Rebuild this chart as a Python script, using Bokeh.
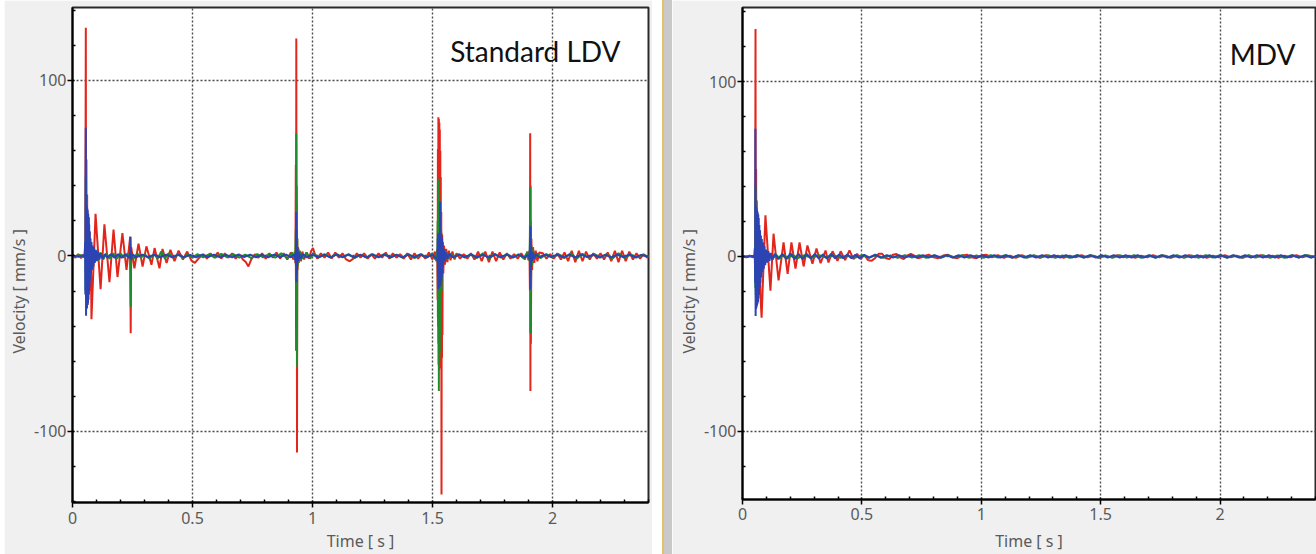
import math
from bokeh.plotting import figure
from bokeh.models import FixedTicker, Label, Div, Range1d, Title
from bokeh.layouts import row
from bokeh.embed import file_html
from bokeh.resources import INLINE

# ---------------- axis ticks ----------------
x_ticks = [0, 0.5, 1, 1.5, 2]
x_tick_labels = ["0", "0.5", "1", "1.5", "2"]
x_minor = [0.1, 0.2, 0.3, 0.4, 0.6, 0.7, 0.8, 0.9, 1.1, 1.2, 1.3, 1.4,
           1.6, 1.7, 1.8, 1.9, 2.1, 2.2, 2.3, 2.4]
y_ticks = [-100, 0, 100]
y_tick_labels = ["-100", "0", "100"]
y_minor = [-140, -120, -80, -60, -40, -20, 20, 40, 60, 80, 120, 140]

# ---------------- Standard LDV (time s, velocity mm/s) ----------------
ldv_red = [
    (0.000, 0.8), (0.012, -1.0), (0.024, 1.0), (0.036, -1.2), (0.046, 0.8), (0.051, -1.0),
    (0.0535, 6), (0.0555, 130), (0.0565, -12), (0.058, 55), (0.0595, -22), (0.061, 35),
    (0.0625, -28), (0.064, 20), (0.0655, -18), (0.067, 22), (0.069, -15), (0.071, 14),
    (0.073, -20), (0.076, 8), (0.079, -36),
    (0.096, 24), (0.117, -19), (0.133, 18), (0.154, -15), (0.171, 15), (0.1875, -12),
    (0.208, 13), (0.225, -8), (0.2405, 11), (0.2425, -44), (0.2445, 5), (0.258, -7),
    (0.275, 7), (0.292, -6), (0.308, 5.5), (0.329, -5), (0.342, 4.5), (0.3625, -7),
    (0.375, 4), (0.392, -4), (0.408, 3.5), (0.425, -3), (0.442, 3), (0.460, -2),
    (0.478, 2.5), (0.495, -2.5), (0.510, -4), (0.525, -1.5), (0.545, 1),
    (0.560, -1.5), (0.575, 1.5), (0.590, -1), (0.605, 2), (0.620, -1.5), (0.635, 1.5),
    (0.650, -1), (0.665, 1.5), (0.680, -1.5), (0.695, 1), (0.710, -2), (0.722, -3.5),
    (0.733, -6), (0.745, -2), (0.760, 1), (0.775, -1), (0.790, 1.5), (0.805, -1.5),
    (0.820, 1.5), (0.835, -1), (0.850, 2), (0.865, -1.5), (0.880, 1.5), (0.895, -2),
    (0.910, 2), (0.920, -2),
    (0.926, 2.5), (0.929, -4), (0.9305, 52), (0.9315, -54), (0.9325, 124), (0.9335, -20),
    (0.9345, 30), (0.9355, -112), (0.9365, 10), (0.938, -8), (0.940, 5), (0.943, -4),
    (0.947, 3), (0.952, -3), (0.958, 2.5), (0.965, -2), (0.975, 2), (0.985, -1.5),
    (0.995, 3), (1.002, 4.5), (1.010, 1), (1.020, -1.5),
    (1.035, 1.5), (1.050, -1), (1.065, 2), (1.080, -1.5), (1.095, 2), (1.110, -1),
    (1.125, 1.5), (1.140, -2), (1.155, -3), (1.170, -1.5), (1.185, 1.5), (1.200, -1),
    (1.215, 1.5), (1.230, -1.5), (1.245, 1), (1.260, -1.5), (1.275, 1.5), (1.290, -1),
    (1.305, 2), (1.320, -1.5), (1.335, 1.5), (1.350, -1), (1.365, 1), (1.380, -1.5),
    (1.395, 1.5), (1.410, -2), (1.425, 1.5), (1.440, -1.5), (1.455, 1), (1.470, -1.5),
    (1.485, 2), (1.500, -2), (1.510, 2.5), (1.516, -3),
    (1.5195, 4), (1.5215, -25), (1.5225, 61), (1.5235, -40), (1.5245, 79), (1.5255, -62),
    (1.5265, 78), (1.5275, -65), (1.5285, 76), (1.5295, -60), (1.5305, 72), (1.5315, -64),
    (1.5325, 60), (1.5335, -55), (1.5345, 45), (1.5355, -50), (1.5365, 25), (1.5375, -136),
    (1.5385, 13), (1.5395, -58), (1.5405, 12), (1.5415, -45), (1.5425, 8), (1.545, -10),
    (1.548, 6), (1.552, -5), (1.557, 4), (1.562, -3.5), (1.568, 3), (1.575, -2.5),
    (1.583, 2.5), (1.592, -2),
    (1.600, 1.5), (1.615, -1.5), (1.630, 1), (1.645, -1.5), (1.660, 1.5), (1.675, -2),
    (1.690, 2.5), (1.705, -3), (1.720, 2.5), (1.735, -3.5), (1.750, 2.5), (1.765, -3),
    (1.780, 2), (1.795, -2), (1.810, 1.5), (1.825, -1.5), (1.840, 1), (1.855, -1.5),
    (1.870, 1.5), (1.885, -2), (1.895, 2.5), (1.900, -2.5), (1.904, 3),
    (1.906, -20), (1.907, 70), (1.908, -77), (1.909, 40), (1.910, -50), (1.912, 10),
    (1.915, -8), (1.919, 5), (1.924, -4), (1.930, 3), (1.937, -3), (1.945, 2),
    (1.960, 1.5), (1.975, -1.5), (1.990, 1), (2.005, -1.5), (2.020, 1.5), (2.035, -2),
    (2.050, 2), (2.065, -3), (2.080, 3), (2.095, -3.5), (2.110, 3), (2.125, -3),
    (2.140, 2.5), (2.155, -2), (2.170, 1.5), (2.185, -1.5), (2.200, 1.5), (2.215, -2),
    (2.230, 2), (2.245, -3), (2.260, 3), (2.275, -3.5), (2.290, 3), (2.305, -3),
    (2.320, 2.5), (2.335, -2), (2.350, 1.5), (2.365, -1.5), (2.380, 1), (2.395, -1),
    (2.400, 0.5),
]

ldv_green = [
    (0.000, -0.5), (0.030, 0.6), (0.050, -0.6), (0.0535, 8), (0.0545, -20), (0.0555, 45),
    (0.0565, -25), (0.058, 30), (0.0595, -20), (0.061, 22), (0.063, -18), (0.065, 15),
    (0.068, -12), (0.071, 10), (0.075, -8), (0.080, 5), (0.088, -4), (0.097, 3),
    (0.106, -2.5), (0.116, 2), (0.128, -2), (0.140, 1.5), (0.155, -1.5), (0.170, 1.5),
    (0.185, -1.5), (0.200, 1.5), (0.215, -1), (0.230, 1.5), (0.2405, -2), (0.2425, -29),
    (0.2445, 1), (0.255, -1.5), (0.270, 1.5), (0.285, -1), (0.300, 1), (0.320, -1.5),
    (0.340, 1), (0.355, -1.5), (0.370, 2.5), (0.385, -1.5), (0.400, 1.5), (0.420, -1),
    (0.440, 1), (0.460, -1.2), (0.480, 0.8), (0.500, -1), (0.520, 1), (0.545, -0.8),
    (0.570, 1), (0.595, -1), (0.620, 1.2), (0.645, -0.8), (0.670, 1), (0.695, -1),
    (0.720, 0.8), (0.745, -1.2), (0.770, 1), (0.795, -0.8), (0.820, 1.2), (0.845, -1),
    (0.870, 1.5), (0.895, -1.5), (0.915, 2), (0.925, -2),
    (0.929, 3), (0.9305, 15), (0.9315, -30), (0.9325, 70), (0.9335, -20), (0.9345, 40),
    (0.9355, -63), (0.9365, 10), (0.938, -6), (0.941, 4), (0.945, -3), (0.950, 2),
    (0.960, -1.5), (0.975, 2), (0.990, -1.5), (1.005, 1.5), (1.025, -1), (1.050, 1),
    (1.075, -1), (1.100, 1.2), (1.125, -0.8), (1.150, 1), (1.175, -1.2), (1.200, 0.8),
    (1.225, -1), (1.250, 1), (1.275, -0.8), (1.300, 1.2), (1.325, -1), (1.350, 0.8),
    (1.375, -1), (1.400, 1), (1.425, -1.2), (1.450, 1), (1.475, -1), (1.500, 1.5),
    (1.512, -2), (1.518, 2.5),
    (1.5205, -3), (1.5215, 20), (1.5225, -35), (1.5235, 44), (1.5245, -50), (1.5255, 40),
    (1.5265, -77), (1.5275, 35), (1.5285, -60), (1.5295, 30), (1.5305, -55), (1.5315, 25),
    (1.5325, -45), (1.5335, 20), (1.5345, -35), (1.536, 15), (1.538, -20), (1.540, 8),
    (1.543, -6), (1.547, 4), (1.552, -3), (1.558, 2), (1.566, -1.5), (1.575, 1.5),
    (1.590, -1), (1.610, 1), (1.635, -1), (1.660, 1), (1.685, -1.2), (1.710, 1.5),
    (1.735, -1.5), (1.760, 1.2), (1.785, -1), (1.810, 1), (1.835, -1), (1.860, 1),
    (1.880, -1.5), (1.895, 2), (1.902, -2.5),
    (1.905, 3), (1.906, 15), (1.907, 39), (1.908, -44), (1.909, 20), (1.910, -25),
    (1.912, 6), (1.915, -5), (1.919, 3), (1.925, -2), (1.935, 1.5), (1.950, -1.2),
    (1.975, 1), (2.000, -1), (2.025, 1), (2.050, -1.2), (2.075, 1.5), (2.100, -1.5),
    (2.125, 1.2), (2.150, -1), (2.175, 1), (2.200, -1), (2.225, 1), (2.250, -1.5),
    (2.275, 1.5), (2.300, -1.2), (2.325, 1), (2.350, -1), (2.375, 0.8), (2.400, -0.5),
]

ldv_blue = [
    (0.000, 0.3), (0.025, -0.5), (0.045, 0.4), (0.051, -1), (0.0525, 8), (0.0535, -22),
    (0.0545, 40), (0.0555, 73), (0.0565, -34), (0.0575, 29), (0.0585, -30), (0.0595, 28),
    (0.0605, -30), (0.0615, 27), (0.0625, -28), (0.0635, 26), (0.0645, -27), (0.0655, 24),
    (0.0665, -25), (0.0675, 22), (0.0685, -22), (0.0695, 18), (0.0705, -18), (0.072, 14),
    (0.0735, -14), (0.075, 10), (0.077, -10), (0.079, 8), (0.081, -8), (0.084, 6),
    (0.087, -6), (0.090, 5), (0.093, -4), (0.097, 3.5), (0.101, -3), (0.106, 2.5),
    (0.112, -2), (0.118, 1.5), (0.125, -1.5), (0.135, 1), (0.145, -1), (0.160, 1),
    (0.175, -1), (0.190, 1), (0.205, -1), (0.220, 1), (0.235, -1), (0.2405, 1),
    (0.2415, 11), (0.2435, -2), (0.250, 1), (0.265, -0.8), (0.290, 0.8), (0.315, -0.8),
    (0.340, 0.8), (0.365, -0.8), (0.390, 0.8), (0.415, -0.8), (0.440, 0.8), (0.465, -0.8),
    (0.490, 0.6), (0.515, -0.8), (0.540, 0.8), (0.565, -0.6), (0.590, 0.8), (0.615, -0.8),
    (0.640, 0.6), (0.665, -0.8), (0.690, 0.8), (0.715, -0.6), (0.740, 0.8), (0.765, -0.8),
    (0.790, 0.6), (0.815, -0.8), (0.840, 0.8), (0.865, -0.6), (0.890, 0.8), (0.910, -0.8),
    (0.925, 1),
    (0.929, -2), (0.931, -5), (0.932, 25), (0.933, -15), (0.934, 15), (0.935, -10),
    (0.937, 5), (0.940, -3), (0.944, 2), (0.950, -1.5), (0.960, 1), (0.975, -0.8),
    (1.000, 0.8), (1.025, -0.8), (1.050, 0.6), (1.075, -0.8), (1.100, 0.8), (1.125, -0.6),
    (1.150, 0.8), (1.175, -0.8), (1.200, 0.6), (1.225, -0.8), (1.250, 0.8), (1.275, -0.6),
    (1.300, 0.8), (1.325, -0.8), (1.350, 0.6), (1.375, -0.8), (1.400, 0.8), (1.425, -0.6),
    (1.450, 0.8), (1.475, -0.8), (1.500, 0.8), (1.512, -1), (1.519, -1.5),
    (1.521, -3), (1.522, 10), (1.523, -12), (1.524, 13), (1.525, -19), (1.526, 12),
    (1.527, -15), (1.528, 13), (1.529, -18), (1.530, 12), (1.531, -16), (1.532, 31),
    (1.533, -17), (1.534, 13), (1.535, -15), (1.536, 12), (1.537, -14), (1.538, 11),
    (1.539, -12), (1.540, 10), (1.541, -10), (1.542, 8), (1.544, -6), (1.547, 4),
    (1.551, -3), (1.556, 2), (1.562, -1.5), (1.570, 1), (1.585, -0.8), (1.610, 0.8),
    (1.635, -0.6), (1.660, 0.8), (1.685, -0.8), (1.710, 0.6), (1.735, -0.8), (1.760, 0.8),
    (1.785, -0.6), (1.810, 0.8), (1.835, -0.8), (1.860, 0.6), (1.885, -0.8), (1.900, 0.8),
    (1.903, -1), (1.905, -2), (1.9065, 10), (1.9075, -19), (1.9085, 17), (1.9095, -10),
    (1.911, 5), (1.914, -3), (1.918, 2), (1.923, -1.5), (1.930, 1), (1.945, -0.8),
    (1.970, 0.8), (1.995, -0.6), (2.020, 0.8), (2.045, -0.8), (2.070, 0.6), (2.095, -0.8),
    (2.120, 0.8), (2.145, -0.6), (2.170, 0.8), (2.195, -0.8), (2.220, 0.6), (2.245, -0.8),
    (2.270, 0.8), (2.295, -0.6), (2.320, 0.8), (2.345, -0.8), (2.370, 0.6), (2.400, -0.4),
]

# ---------------- MDV (time s, velocity mm/s) ----------------
mdv_red = [
    (0.000, 0.3), (0.015, -0.5), (0.030, 0.5), (0.045, -0.5), (0.051, 1),
    (0.053, -8), (0.0545, 130), (0.0555, -15), (0.057, 50), (0.0585, -20), (0.060, 32),
    (0.0615, -25), (0.063, 20), (0.065, -20), (0.067, 18), (0.069, -18), (0.072, 12),
    (0.075, -22), (0.080, -35),
    (0.096, 23.5), (0.117, -19.5), (0.130, 13), (0.151, -13.7), (0.172, 8), (0.189, -10),
    (0.205, 8), (0.222, -7), (0.239, 8), (0.256, -5.7), (0.272, 6.3), (0.293, -4.2),
    (0.310, 4.6), (0.327, -3.8), (0.348, 3.4), (0.360, -3.4), (0.377, 3), (0.398, -2.5),
    (0.411, 3), (0.430, -2), (0.448, 3.4), (0.465, -1.5), (0.480, 1.5), (0.495, -1.5),
    (0.510, 1), (0.525, -2), (0.540, -2.5), (0.555, -1), (0.570, 1.5), (0.585, 1.5),
    (0.600, -1), (0.615, -1.5), (0.630, 1), (0.645, 1.5), (0.660, -0.5), (0.675, -1.5),
    (0.690, 0.5), (0.705, 1.5), (0.720, 0.5), (0.735, -1), (0.750, -0.5), (0.765, 0.5),
    (0.780, 1), (0.800, -0.5), (0.820, -1), (0.840, 0.5), (0.860, 1), (0.880, -0.5),
    (0.900, -1), (0.920, 0.5), (0.940, 1), (0.960, -0.5), (0.980, -1), (1.000, 0.5),
    (1.020, 1), (1.045, -0.5), (1.070, 0.8), (1.095, -0.8), (1.120, 0.5), (1.145, -0.8),
    (1.170, 0.8), (1.195, -0.5), (1.220, 0.5), (1.245, -0.8), (1.270, 0.8), (1.295, -0.5),
    (1.320, 0.5), (1.345, -0.8), (1.370, 0.5), (1.395, -0.5), (1.420, 0.8), (1.445, -0.5),
    (1.470, 0.5), (1.495, -0.8), (1.520, 0.5), (1.545, -0.5), (1.570, 0.8), (1.595, -0.5),
    (1.620, 0.5), (1.645, -0.8), (1.670, 0.5), (1.695, -0.5), (1.720, 0.8), (1.745, -0.5),
    (1.770, 0.5), (1.795, -0.8), (1.820, 0.5), (1.845, -0.5), (1.870, 0.8), (1.895, -0.5),
    (1.920, 0.5), (1.945, -0.8), (1.970, 0.5), (1.995, -0.5), (2.020, 0.8), (2.045, -0.5),
    (2.070, 0.5), (2.095, -0.8), (2.120, 0.5), (2.145, -0.5), (2.170, 0.8), (2.195, -0.5),
    (2.220, 0.5), (2.245, -0.8), (2.270, 0.5), (2.295, -0.5), (2.320, 0.8), (2.345, -0.5),
    (2.370, 0.5), (2.400, -0.3),
]

mdv_green = [
    (0.000, -0.3), (0.030, 0.4), (0.050, -0.4), (0.0525, 6), (0.0535, -18), (0.0545, 40),
    (0.0555, -22), (0.057, 25), (0.0585, -18), (0.060, 18), (0.062, -15), (0.064, 12),
    (0.067, -10), (0.070, 8), (0.074, -6), (0.079, 4), (0.086, -3), (0.094, 2.5),
    (0.103, -2), (0.113, 1.5), (0.125, -1.5), (0.140, 1.2), (0.155, -1.2), (0.170, 1),
    (0.190, -1), (0.210, 1), (0.230, -1), (0.260, 0.8), (0.290, -0.8), (0.320, 0.8),
    (0.350, -0.6), (0.380, 0.8), (0.410, -0.8), (0.440, 0.6), (0.470, -0.8), (0.500, 0.8),
    (0.530, -0.6), (0.560, 0.8), (0.590, -0.8), (0.620, 0.6), (0.650, -0.8), (0.680, 0.8),
    (0.710, -0.6), (0.740, 0.8), (0.770, -0.8), (0.800, 0.6), (0.830, -0.8), (0.860, 0.8),
    (0.890, -0.6), (0.920, 0.8), (0.950, -0.8), (0.980, 0.6), (1.010, -0.8), (1.040, 0.8),
    (1.070, -0.6), (1.100, 0.8), (1.130, -0.8), (1.160, 0.6), (1.190, -0.8), (1.220, 0.8),
    (1.250, -0.6), (1.280, 0.8), (1.310, -0.8), (1.340, 0.6), (1.370, -0.8), (1.400, 0.8),
    (1.430, -0.6), (1.460, 0.8), (1.490, -0.8), (1.520, 0.6), (1.550, -0.8), (1.580, 0.8),
    (1.610, -0.6), (1.640, 0.8), (1.670, -0.8), (1.700, 0.6), (1.730, -0.8), (1.760, 0.8),
    (1.790, -0.6), (1.820, 0.8), (1.850, -0.8), (1.880, 0.6), (1.910, -0.8), (1.940, 0.8),
    (1.970, -0.6), (2.000, 0.8), (2.030, -0.8), (2.060, 0.6), (2.090, -0.8), (2.120, 0.8),
    (2.150, -0.6), (2.180, 0.8), (2.210, -0.8), (2.240, 0.6), (2.270, -0.8), (2.300, 0.8),
    (2.330, -0.6), (2.360, 0.8), (2.400, -0.4),
]

mdv_blue = [
    (0.000, 0.3), (0.020, -0.3), (0.040, 0.3), (0.050, -0.5), (0.052, 5), (0.053, -15),
    (0.054, 73), (0.055, -34), (0.056, 29), (0.057, -30), (0.058, 28), (0.059, -29),
    (0.060, 27), (0.061, -28), (0.062, 26), (0.063, -27), (0.064, 25), (0.065, -26),
    (0.066, 24), (0.067, -24), (0.068, 22), (0.069, -22), (0.0705, 18), (0.072, -18),
    (0.0735, 15), (0.075, -15), (0.077, 12), (0.079, -12), (0.081, 10), (0.083, -9),
    (0.086, 8), (0.089, -7), (0.092, 6), (0.095, -5), (0.099, 4), (0.103, -3.5),
    (0.108, 3), (0.113, -2.5), (0.118, 2), (0.125, -2), (0.135, 1.5), (0.150, -1.5),
    (0.167, 1.5), (0.184, -1.5), (0.201, 1.8), (0.218, -1.5), (0.235, 1.5), (0.252, -1.5),
    (0.269, 1.5), (0.286, -1.2), (0.303, 1.5), (0.320, -1.2), (0.337, 1.2), (0.354, -1.2),
    (0.371, 1.5), (0.388, -1), (0.405, 1.2), (0.422, -1), (0.439, 1.2), (0.456, -1),
    (0.473, 1), (0.490, -1), (0.510, 1), (0.530, -0.8), (0.555, 1), (0.580, -0.8),
    (0.605, 0.8), (0.630, -0.7), (0.655, 0.8), (0.680, -0.7), (0.705, 0.7), (0.730, -0.7),
    (0.755, 0.8), (0.780, -0.7), (0.805, 0.7), (0.830, -0.7), (0.855, 0.8), (0.880, -0.7),
    (0.905, 0.7), (0.930, -0.7), (0.955, 0.8), (0.980, -0.7), (1.005, 0.7), (1.030, -0.7),
    (1.055, 0.8), (1.080, -0.7), (1.105, 0.7), (1.130, -0.7), (1.155, 0.8), (1.180, -0.7),
    (1.205, 0.7), (1.230, -0.7), (1.255, 0.8), (1.280, -0.7), (1.305, 0.7), (1.330, -0.7),
    (1.355, 0.8), (1.380, -0.7), (1.405, 0.7), (1.430, -0.7), (1.455, 0.8), (1.480, -0.7),
    (1.505, 0.7), (1.530, -0.7), (1.555, 0.8), (1.580, -0.7), (1.605, 0.7), (1.630, -0.7),
    (1.655, 0.8), (1.680, -0.7), (1.705, 0.7), (1.730, -0.7), (1.755, 0.8), (1.780, -0.7),
    (1.805, 0.7), (1.830, -0.7), (1.855, 0.8), (1.880, -0.7), (1.905, 0.7), (1.930, -0.7),
    (1.955, 0.8), (1.980, -0.7), (2.005, 0.7), (2.030, -0.7), (2.055, 0.8), (2.080, -0.7),
    (2.105, 0.7), (2.130, -0.7), (2.155, 0.8), (2.180, -0.7), (2.205, 0.7), (2.230, -0.7),
    (2.255, 0.8), (2.280, -0.7), (2.305, 0.7), (2.330, -0.7), (2.355, 0.8), (2.380, -0.7),
    (2.400, 0.3),
]

series_colors = {"red": "#e3261c", "green": "#1f8b2c", "blue": "#2b43b3"}

TICK_FONT = "Noto Sans"
GREY_TEXT = "#5a5a5a"


def make_panel(f_width, f_height, b_left, b_right, b_bottom, y_lo, y_hi, red, green, blue,
               title, title_x, title_y, ylab_offset, tick_standoff, xlab_standoff):
    p = figure(frame_width=f_width, frame_height=f_height, width=None, height=None,
               x_range=Range1d(0, 2.4), y_range=Range1d(y_lo, y_hi),
               output_backend="svg", toolbar_location=None,
               min_border_left=b_left, min_border_right=b_right,
               min_border_top=7, min_border_bottom=b_bottom)
    p.border_fill_color = "#f0f0f0"
    p.background_fill_color = "white"
    p.outline_line_color = "#2a2a2a"
    p.outline_line_width = 2

    for data, name in ((red, "red"), (green, "green"), (blue, "blue")):
        p.line([d[0] for d in data], [d[1] for d in data],
               line_color=series_colors[name], line_width=2, line_join="bevel")

    p.xaxis.ticker = FixedTicker(ticks=x_ticks, minor_ticks=x_minor)
    p.yaxis.ticker = FixedTicker(ticks=y_ticks, minor_ticks=y_minor)
    p.xaxis.major_label_overrides = {float(k): lab for k, lab in zip(x_ticks, x_tick_labels)}
    p.yaxis.major_label_overrides = {float(k): lab for k, lab in zip(y_ticks, y_tick_labels)}
    p.xgrid.ticker = FixedTicker(ticks=x_ticks)
    p.ygrid.ticker = FixedTicker(ticks=y_ticks)
    for g in (p.xgrid, p.ygrid):
        g.grid_line_color = "#4a4a4a"
        g.grid_line_dash = "2 2"
        g.grid_line_width = 1.4

    for ax in (p.xaxis, p.yaxis):
        ax.axis_line_color = "black"
        ax.axis_line_width = 2
        ax.major_tick_line_color = "black"
        ax.major_tick_line_width = 1.5
        ax.minor_tick_line_color = "black"
        ax.minor_tick_line_width = 1.5
        ax.major_tick_in = 2
        ax.major_tick_out = 5
        ax.minor_tick_in = 3
        ax.minor_tick_out = 0
        ax.major_label_text_font = TICK_FONT
        ax.major_label_text_font_size = "16px"
        ax.major_label_text_color = GREY_TEXT

    p.xaxis.major_label_standoff = tick_standoff
    p.yaxis.major_label_standoff = 1
    p.xaxis.axis_label = "Time [ s ]"
    p.xaxis.axis_label_text_font = TICK_FONT
    p.xaxis.axis_label_text_font_size = "16px"
    p.xaxis.axis_label_text_font_style = "normal"
    p.xaxis.axis_label_text_color = GREY_TEXT
    p.xaxis.axis_label_standoff = xlab_standoff

    p.add_layout(Title(text="Velocity [ mm/s ]", align="left", offset=ylab_offset, standoff=2,
                       text_font=TICK_FONT, text_font_size="16px", text_font_style="normal",
                       text_color=GREY_TEXT), "left")
    p.add_layout(Label(x=title_x, y=title_y, text=title, text_align="right",
                       text_baseline="alphabetic", text_font="Lato",
                       text_font_size="28px", text_color="#111111"))
    return p


p1 = make_panel(576, 495, 68, 4, 52, -140.5, 141.6, ldv_red, ldv_green, ldv_blue,
                "Standard LDV", 2.283, 117.0, 149, 4, 3)
p2 = make_panel(573, 492, 70, 1, 55, -138.9, 142.3, mdv_red, mdv_green, mdv_blue,
                "MDV", 2.316, 116.0, 146, 3, 7)

edge = Div(width=4, height=554, margin=0, styles={"background": "#ffffff"})
sep = Div(width=20, height=554, margin=0, styles={
    "background": "linear-gradient(to right, #ffffff 0px, #ffffff 10px, #e6c068 10px, "
                  "#e6c068 12px, #c9c9c9 12px, #c9c9c9 20px)"})

layout = row(edge, p1, sep, p2, spacing=0)
open("out.html", "w").write(file_html(layout, INLINE))
